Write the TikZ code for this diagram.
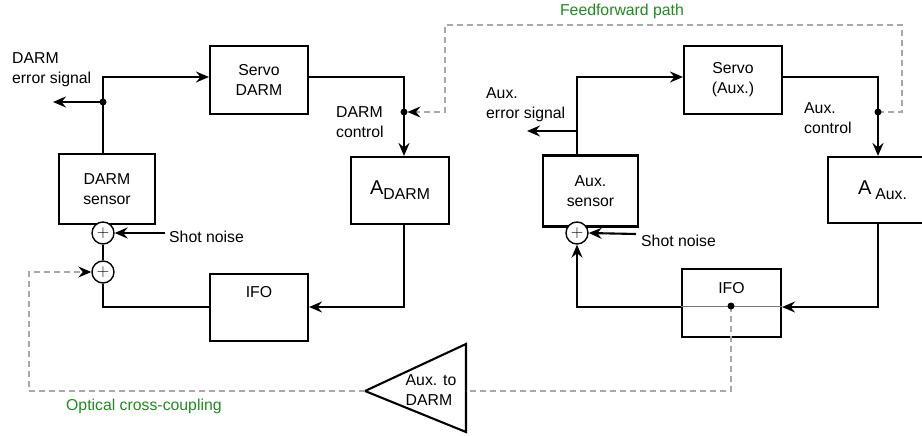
\documentclass[tikz,border=0pt]{standalone}
\usepackage{fontspec}
\setmainfont{Liberation Sans}
\usetikzlibrary{arrows.meta,calc}
\definecolor{ffgreen}{RGB}{30,140,30}
\definecolor{dashgray}{RGB}{168,168,168}
\definecolor{thingray}{RGB}{120,120,120}
\newcommand{\mysubA}[2]{{\fontsize{20}{20}\selectfont A}\hspace{#2}\raisebox{-5pt}{#1}}
\begin{document}
\begin{tikzpicture}[x=1pt,y=-1pt,
  every node/.style={font=\fontsize{15.8}{20}\selectfont},
  blk/.style={draw,line width=2.1pt,rectangle,minimum width=98pt,minimum height=68pt,align=center,inner sep=0pt},
  sig/.style={line width=2.1pt},
  arr/.style={-{Stealth[length=13pt,width=11pt,inset=4.5pt,black]}},
  dsh/.style={draw=dashgray,line width=1.9pt,dash pattern=on 6pt off 4pt},
  sumc/.style={draw,circle,line width=1.4pt,minimum size=22pt,inner sep=0pt,fill=white,font=\fontsize{16}{16}\selectfont},
  jdot/.style={circle,fill,inner sep=0pt,minimum size=7pt},
  lbl/.style={inner sep=0pt,align=left},
  grn/.style={inner sep=0pt,text=ffgreen}
]
\useasboundingbox (0,0) rectangle (922,436);

% ---------------- left loop (DARM) ----------------
\node[blk] (servoD) at (259,80) {Servo\\DARM};
\node[blk,minimum width=96pt,minimum height=70pt] (sensD) at (107,189) {DARM\\sensor};
\node[blk,minimum height=67pt] (AD) at (400,190.5) {\mysubA{DARM}{0pt}};
\node[blk,minimum height=67pt] (ifoD) at (259,307.5) {};
\node[inner sep=0pt] (ifoDt) at (259,292) {IFO};
\node[sumc] (sum1) at (103,233) {$+$};
\node[sumc] (sum2) at (103,272) {$+$};

\coordinate (tD) at (103,77);
\coordinate (jD) at (103,102);
\coordinate (eD) at (53,102);
\coordinate (rD) at (404,77);
\coordinate (cD) at (404,112);
\coordinate (bD) at (404,307);
\coordinate (snD) at (165,233);

\draw[sig,arr] (sum1 |- sensD.north) -- (tD) -- (servoD.west |- tD);
\draw[sig,arr] (jD) -- (eD);
\draw[sig,arr] (servoD.east |- rD) -- (rD) -- (rD |- AD.north);
\draw[sig,arr] (rD |- AD.south) -- (bD) -- (ifoD.east |- bD);
\draw[sig] (ifoD.west |- bD) -- (sum2 |- bD) -- (sum2.south);
\draw[sig] (sum2.north) -- (sum1.south);
\draw[sig,arr] (snD) -- (sum1.east);

\node[lbl,anchor=west] (errD) at (12,70) {DARM\\error signal};
\node[lbl,anchor=west] (ctlD) at (336,122) {DARM\\control};
\node[lbl,anchor=west] (snDt) at (169,237) {Shot noise};

% ---------------- right loop (Aux.) ----------------
\node[blk] (servoA) at (733,80) {Servo\\(Aux.)};
\node[blk,minimum width=95pt,minimum height=71pt] (sensA) at (590.5,191) {Aux.\\sensor};
\node[blk,minimum width=100pt,minimum height=66pt] (AA) at (878,190) {\hspace{9pt}\mysubA{Aux.}{4pt}};
\node[blk,minimum width=99pt,minimum height=68pt] (ifoA) at (731.5,303) {};
\node[inner sep=0pt] (ifoAt) at (731.5,288) {IFO};
\node[sumc] (sumA) at (577,233) {$+$};

\coordinate (tA) at (577,77);
\coordinate (jA) at (577,131);
\coordinate (eA) at (527,131);
\coordinate (rA) at (878,77);
\coordinate (cA) at (878,112);
\coordinate (bA) at (878,307);
\coordinate (lA) at (577,307);
\coordinate (snA) at (636,234);
\coordinate (iA) at (731,306);

\draw[sig,arr] (tA |- sensA.north) -- (tA) -- (servoA.west |- tA);
\draw[sig,arr] (jA) -- (eA);
\draw[sig,arr] (servoA.east |- rA) -- (rA) -- (rA |- AA.north);
\draw[sig,arr] (rA |- AA.south) -- (bA) -- (ifoA.east |- bA);
\draw[sig,arr] (ifoA.west |- lA) -- (lA) -- (sumA.south);
\draw[sig,arr] (snA) -- (sumA.east);
\draw[thingray,line width=1pt] (ifoA.west |- iA) -- (ifoA.east |- iA);

\node[lbl,anchor=west] (errA) at (486,105) {Aux.\\error signal};
\node[lbl,anchor=west] (ctlA) at (804,118) {Aux.\\control};
\node[lbl,anchor=west] (snAt) at (641,241) {Shot noise};

% ---------------- cross-coupling ----------------
\coordinate (triTip) at (365,391);
\coordinate (triR) at (466,391);
\draw[sig,line join=miter] (triTip) -- (466,344) -- (466,432) -- cycle;
\node[lbl,align=left] (triT) at (431,390) {Aux. to\\DARM};

\draw[dsh] (iA) -- (iA |- triR) -- (triR);
\draw[dsh,arr] (triTip) -- (29,391) -- (29,272) -- (sum2.west);
\draw[dsh,arr] (cA) -- (902,112) -- (902,25) -- (445,25) -- (445,112) -- ($(cD)+(3.5,0)$);

% junction dots drawn last
\node[jdot] (dotJD) at (jD) {};
\node[jdot] (dotCD) at (cD) {};
\node[jdot] (dotCA) at (cA) {};
\node[jdot] (dotIA) at (iA) {};

\node[grn] (ffT) at (622,11) {Feedforward path};
\node[grn,anchor=west] (ocT) at (66,406) {Optical cross-coupling};
\end{tikzpicture}
\end{document}
